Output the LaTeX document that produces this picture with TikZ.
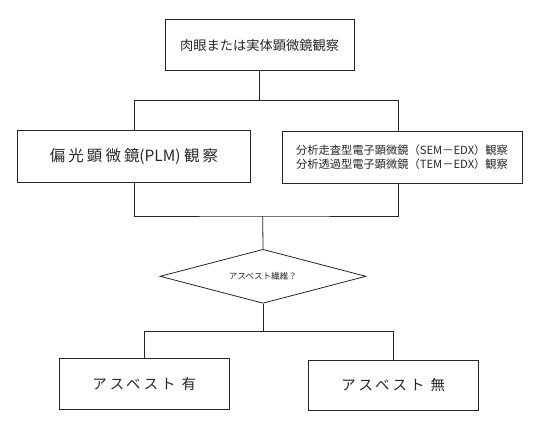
\documentclass[tikz,border=0pt]{standalone}
\usepackage{fontspec}
\setmainfont{Noto Sans CJK JP}
\newfontfamily\jpwide[LetterSpace=20]{Noto Sans CJK JP}
\newfontfamily\jpplain{Noto Sans CJK JP}
\usetikzlibrary{shapes.geometric}
\tikzset{
  box/.style={draw=black!85, line width=0.8bp, rectangle, inner sep=0pt, text=black!85, align=center},
  dia/.style={draw=black!85, line width=0.8bp, diamond, shape aspect=3.8, inner sep=0pt, text=black!85},
  conn/.style={draw=black!85, line width=0.8bp},
}
\begin{document}
\begin{tikzpicture}[x=1bp,y=-1bp]
\useasboundingbox (0,0) rectangle (550,432);
\node[box, minimum width=189bp, minimum height=51.5bp, font=\fontsize{13.3}{16}\selectfont] (top) at (259.5,45) {肉眼または実体顕微鏡観察};
\node[box, minimum width=232.5bp, minimum height=51.5bp, font=\fontsize{15.5}{18}\selectfont] (plm) at (134,156.5) {{\jpwide 偏光顕微鏡}{\jpplain (PLM)\ }{\jpwide 観察}};
\node[box, minimum width=240bp, minimum height=51.5bp, font=\fontsize{11.3}{14}\selectfont] (sem) at (402,157.5) {分析走査型電子顕微鏡（SEM－EDX）観察\\分析透過型電子顕微鏡（TEM－EDX）観察};
\node[dia, minimum width=206bp, minimum height=54bp, font=\fontsize{8.6}{10}\selectfont] (q) at (263,276.3) {アスベスト繊維？};
\node[box, minimum width=170bp, minimum height=50.6bp, font=\jpwide\fontsize{14.5}{17}\selectfont] (yes) at (144.3,384) {アスベスト 有};
\node[box, minimum width=169.7bp, minimum height=49.3bp, font=\jpwide\fontsize{14.5}{17}\selectfont] (no) at (393.2,385.3) {アスベスト 無};
\coordinate (j1) at (259,100.5);
\coordinate (j2) at (262.7,216);
\coordinate (j3) at (263,331);
\draw[conn] (top.south) -- (top.south |- j1);
\draw[conn] (plm.north) |- (j1) -| ([xshift=-4bp]sem.north);
\draw[conn] (plm.south) |- (j2) -| ([xshift=-4bp]sem.south);
\draw[conn] (j2) -- (q.north);
\draw[conn] (q.south) -- (j3);
\draw[conn] (yes.north) |- (j3) -| (no.north);
\end{tikzpicture}
\end{document}
